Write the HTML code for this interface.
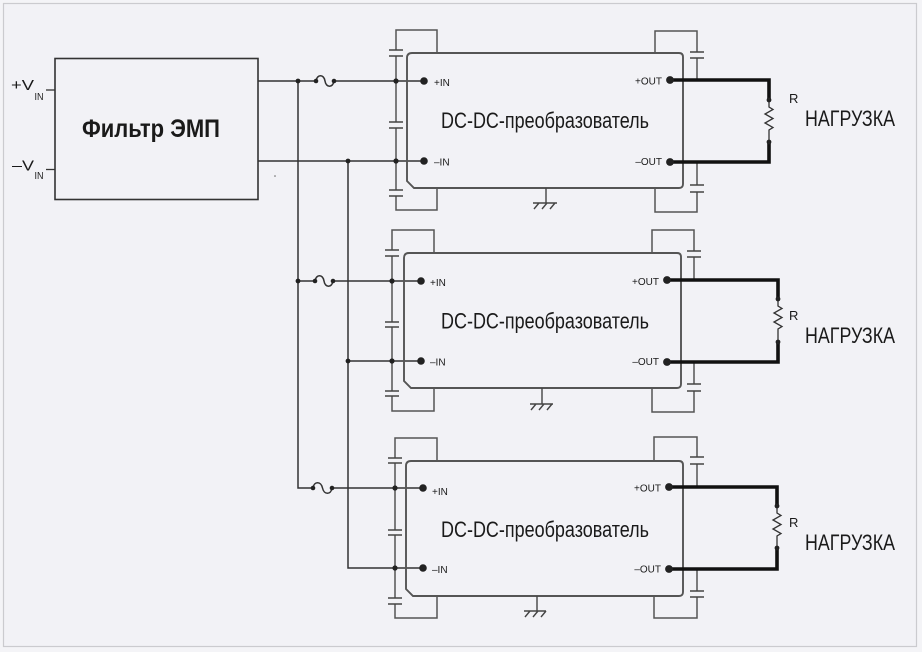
<!DOCTYPE html>
<html>
<head>
<meta charset="utf-8">
<style>
  html,body{margin:0;padding:0;background:#f4f4f7;}
  svg{display:block;}
  text{font-family:"Liberation Sans","Noto Sans CJK SC",sans-serif;fill:#1a1a1a;}
</style>
</head>
<body>
<svg width="922" height="652" viewBox="0 0 922 652" xmlns="http://www.w3.org/2000/svg">
  <rect x="0" y="0" width="922" height="652" fill="#f4f4f7"/>
  <rect x="3.5" y="3.5" width="913" height="643" fill="#f2f2f6" stroke="#cbcbcf" stroke-width="1.2"/>

  <!-- Filter block -->
  <rect x="55" y="58.5" width="203" height="141" fill="none" stroke="#333" stroke-width="1.6"/>
  <text x="82" y="137" font-size="25" font-weight="bold" textLength="138" lengthAdjust="spacingAndGlyphs">Фильтр ЭМП</text>
  <text x="11" y="90" font-size="15" textLength="23" lengthAdjust="spacingAndGlyphs">+V</text>
  <text x="34.5" y="100" font-size="10" textLength="9" lengthAdjust="spacingAndGlyphs">IN</text>
  <text x="12" y="170.5" font-size="15" textLength="22" lengthAdjust="spacingAndGlyphs">–V</text>
  <text x="34.5" y="179" font-size="10" textLength="9" lengthAdjust="spacingAndGlyphs">IN</text>
  <g stroke="#333" stroke-width="1.3" fill="none">
    <path d="M46,90 H55"/>
    <path d="M46,169.5 H55"/>
  </g>
  <circle cx="275" cy="176" r="0.8" fill="#666"/>

  <!-- Input wiring -->
  <g stroke="#333" stroke-width="1.5" fill="none">
    <path d="M258,81 H316"/>
    <path d="M334,81 H424"/>
    <path d="M258,161 H424"/>
    <path d="M298,81 V488 H313"/>
    <path d="M332,488 H423"/>
    <path d="M348,161 V568 H423"/>
    <path d="M298,281 H315"/>
    <path d="M333,281 H421"/>
    <path d="M348,361 H421"/>
    <!-- fuses -->
    <path d="M316,81 C317,74 324,74 325,81 C326,88 333,88 334,81"/>
    <path d="M315,281 C316,274 323,274 324,281 C325,288 332,288 333,281"/>
    <path d="M313,488 C314,481 321,481 322.5,488 C324,495 331,495 332,488"/>
  </g>

  <!-- Brackets / capacitor rails -->
  <g stroke="#555" stroke-width="1.5" fill="none">
    <!-- conv1 left -->
    <path d="M396,50 V30 H437 V53"/>
    <path d="M396,56 V122"/>
    <path d="M396,128 V190"/>
    <path d="M396,196 V210 H437 V188"/>
    <!-- conv1 right -->
    <path d="M697,52 V31 H655 V53"/>
    <path d="M697,58 V80"/>
    <path d="M697,162 V185"/>
    <path d="M697,192 V212 H655 V188"/>
    <!-- conv2 left -->
    <path d="M392,250 V230 H434 V253"/>
    <path d="M392,256 V322"/>
    <path d="M392,327 V391"/>
    <path d="M392,396 V411 H434 V388"/>
    <!-- conv2 right -->
    <path d="M694,251 V230 H652 V253"/>
    <path d="M694,257 V280"/>
    <path d="M694,362 V384"/>
    <path d="M694,391 V412 H652 V388"/>
    <!-- conv3 left -->
    <path d="M395,458 V438 H437 V461"/>
    <path d="M395,463 V530"/>
    <path d="M395,535 V598"/>
    <path d="M395,604 V618 H437 V596"/>
    <!-- conv3 right -->
    <path d="M697,457 V437 H654 V461"/>
    <path d="M697,464 V487"/>
    <path d="M697,569 V591"/>
    <path d="M697,597 V618 H654 V596"/>
  </g>

  <!-- Capacitor plates -->
  <g stroke="#444" stroke-width="1.6" fill="none">
    <path d="M389,50 H403 M389,56 H403 M389,122 H403 M389,128 H403 M389,190 H403 M389,196 H403"/>
    <path d="M690,52 H704 M690,58 H704 M690,185 H704 M690,192 H704"/>
    <path d="M385,250 H399 M385,256 H399 M385,322 H399 M385,327 H399 M385,391 H399 M385,396 H399"/>
    <path d="M687,251 H701 M687,257 H701 M687,384 H701 M687,391 H701"/>
    <path d="M388,458 H402 M388,463 H402 M388,530 H402 M388,535 H402 M388,598 H402 M388,604 H402"/>
    <path d="M690,457 H704 M690,464 H704 M690,591 H704 M690,597 H704"/>
  </g>

  <!-- Converter boxes -->
  <g stroke="#555" stroke-width="1.9" fill="none">
    <path d="M412,53 H679 Q683,53 683,57 V184 Q683,188 679,188 H414 L407,181 V58 Q407,53 412,53 Z"/>
    <path d="M409,253 H677 Q681,253 681,257 V384 Q681,388 677,388 H411 L404,381 V258 Q404,253 409,253 Z"/>
    <path d="M411,461 H679 Q683,461 683,465 V592 Q683,596 679,596 H413 L406,589 V466 Q406,461 411,461 Z"/>
  </g>

  <!-- Grounds -->
  <g stroke="#444" stroke-width="1.4" fill="none">
    <path d="M546,188 V203 M533,203 H557 M539,203 L534,209 M547,203 L542,209 M555,203 L550,209"/>
    <path d="M542,388 V404 M530,404 H553 M536,404 L531,410 M544,404 L539,410 M552,404 L547,410"/>
    <path d="M537,596 V611 M524,611 H546 M530,611 L525,617 M538,611 L533,617 M546,611 L541,617"/>
  </g>

  <!-- Output thick wires -->
  <g stroke="#111" stroke-width="3.6" fill="none" stroke-linejoin="miter">
    <path d="M670,80 H769 V100"/>
    <path d="M769,142 V162 H670"/>
    <path d="M667,280 H778 V299"/>
    <path d="M778,342 V362 H667"/>
    <path d="M669,487 H777 V506"/>
    <path d="M777,548 V569 H669"/>
  </g>

  <!-- Resistors -->
  <g stroke="#333" stroke-width="1.3" fill="none" stroke-linejoin="miter">
    <path d="M769,100 V107 L773,109.5 L765,114 L773,118.5 L765,123 L773,127.5 L769,130 V142"/>
    <path d="M778,299 V306 L782,308.5 L774,313 L782,317.5 L774,322 L782,326.5 L778,329 V342"/>
    <path d="M777,506 V513 L781,515.5 L773,520 L781,524.5 L773,529 L781,533.5 L777,536 V548"/>
  </g>

  <!-- Junction dots -->
  <g fill="#222">
    <circle cx="298" cy="81" r="2.4"/>
    <circle cx="316" cy="81" r="2.3"/>
    <circle cx="334" cy="81" r="2.3"/>
    <circle cx="396" cy="81" r="2.6"/>
    <circle cx="396" cy="161" r="2.6"/>
    <circle cx="348" cy="161" r="2.4"/>
    <circle cx="298" cy="281" r="2.4"/>
    <circle cx="315" cy="281" r="2.3"/>
    <circle cx="333" cy="281" r="2.3"/>
    <circle cx="392" cy="281" r="2.6"/>
    <circle cx="392" cy="361" r="2.6"/>
    <circle cx="348" cy="361" r="2.4"/>
    <circle cx="313" cy="488" r="2.3"/>
    <circle cx="332" cy="488" r="2.3"/>
    <circle cx="395" cy="488" r="2.6"/>
    <circle cx="395" cy="568" r="2.6"/>
    <!-- terminals -->
    <circle cx="424" cy="81" r="3.8"/>
    <circle cx="424" cy="161" r="3.8"/>
    <circle cx="421" cy="281" r="3.8"/>
    <circle cx="421" cy="361" r="3.8"/>
    <circle cx="423" cy="488" r="3.8"/>
    <circle cx="423" cy="568" r="3.8"/>
    <circle cx="670" cy="80" r="3.9"/>
    <circle cx="670" cy="162" r="3.9"/>
    <circle cx="667" cy="280" r="3.9"/>
    <circle cx="667" cy="362" r="3.9"/>
    <circle cx="669" cy="487" r="3.9"/>
    <circle cx="669" cy="569" r="3.9"/>
    <!-- resistor ends -->
    <circle cx="769" cy="100" r="2.4"/>
    <circle cx="769" cy="142" r="2.4"/>
    <circle cx="778" cy="299" r="2.4"/>
    <circle cx="778" cy="342" r="2.4"/>
    <circle cx="777" cy="506" r="2.4"/>
    <circle cx="777" cy="548" r="2.4"/>
  </g>

  <!-- Pin labels -->
  <g font-size="10">
    <text x="434" y="86">+IN</text>
    <text x="434" y="165.5">–IN</text>
    <text x="430" y="286">+IN</text>
    <text x="430" y="365.5">–IN</text>
    <text x="432" y="495">+IN</text>
    <text x="432" y="573">–IN</text>
    <text x="662" y="84.5" text-anchor="end">+OUT</text>
    <text x="662" y="165" text-anchor="end">–OUT</text>
    <text x="659" y="285" text-anchor="end">+OUT</text>
    <text x="659" y="365" text-anchor="end">–OUT</text>
    <text x="661" y="491.5" text-anchor="end">+OUT</text>
    <text x="661" y="572.5" text-anchor="end">–OUT</text>
  </g>

  <!-- Converter titles -->
  <g font-size="22">
    <text x="441" y="128" textLength="208" lengthAdjust="spacingAndGlyphs">DC-DC-преобразователь</text>
    <text x="441" y="328.5" textLength="208" lengthAdjust="spacingAndGlyphs">DC-DC-преобразователь</text>
    <text x="441" y="537" textLength="208" lengthAdjust="spacingAndGlyphs">DC-DC-преобразователь</text>
  </g>

  <!-- Loads -->
  <g font-size="13">
    <text x="789" y="103">R</text>
    <text x="789" y="320">R</text>
    <text x="789" y="527">R</text>
  </g>
  <g font-size="22">
    <text x="805" y="126" textLength="90" lengthAdjust="spacingAndGlyphs">НАГРУЗКА</text>
    <text x="805" y="343" textLength="90" lengthAdjust="spacingAndGlyphs">НАГРУЗКА</text>
    <text x="805" y="550" textLength="90" lengthAdjust="spacingAndGlyphs">НАГРУЗКА</text>
  </g>
</svg>
</body>
</html>
